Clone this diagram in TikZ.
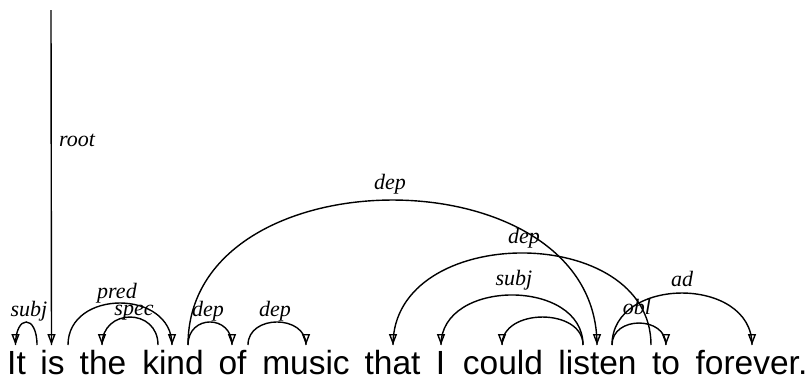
\documentclass[tikz,border=0pt]{standalone}
\usepackage{fontspec}
\setmainfont{Liberation Sans}
\newfontfamily\lblfont{Liberation Serif}
\usetikzlibrary{arrows.meta,calc}
\begin{document}
\begin{tikzpicture}[x=1pt,y=-1pt,
  word/.style={font=\fontsize{33.5}{40}\selectfont, inner sep=0pt, anchor=base},
  lbl/.style={font=\lblfont\itshape\fontsize{22}{24}\selectfont, inner sep=0pt, anchor=base},
  deparc/.style={line width=1.4pt},
  headtip/.style={line width=1.4pt, -{Triangle[open,length=11pt,width=8pt]}},
]
\useasboundingbox (0,0) rectangle (807,383);
% words
\node[word] (It) at (16.5,374) {It};
\node[word] (is) at (52.5,374) {is};
\node[word] (the) at (103,374) {the};
\node[word] (kind) at (173,374) {kind};
\node[word] (of) at (232.5,374) {of};
\node[word] (music) at (306,374) {music};
\node[word] (that) at (392.5,374) {that};
\node[word] (I) at (440.5,374) {I};
\node[word] (could) at (503,374) {could};
\node[word] (listen) at (597.5,374) {listen};
\node[word] (to) at (666,374) {to};
\node[word] (forever) at (751.5,374) {forever.};
% anchor points
\coordinate (It-h) at ($(It.base)+(-1,-29)$);
\coordinate (is-h) at ($(is.base)+(-1,-29)$);
\coordinate (is-l) at ($(is.base)+(-15.5,-29)$);
\coordinate (is-r) at ($(is.base)+(15.5,-29)$);
\coordinate (the-h) at ($(the.base)+(-1,-29)$);
\coordinate (kind-h) at ($(kind.base)+(-1,-29)$);
\coordinate (kind-l) at ($(kind.base)+(-15,-29)$);
\coordinate (kind-r) at ($(kind.base)+(15,-29)$);
\coordinate (of-h) at ($(of.base)+(-0.5,-29)$);
\coordinate (of-r) at ($(of.base)+(15.5,-29)$);
\coordinate (music-h) at ($(music.base)+(0,-29)$);
\coordinate (that-h) at ($(that.base)+(0.5,-29)$);
\coordinate (I-h) at ($(I.base)+(0.5,-29)$);
\coordinate (could-h) at ($(could.base)+(-1,-29)$);
\coordinate (listen-h) at ($(listen.base)+(-0.5,-29)$);
\coordinate (listen-l) at ($(listen.base)+(-14.5,-29)$);
\coordinate (listen-r) at ($(listen.base)+(14.5,-29)$);
\coordinate (to-h) at ($(to.base)+(0,-29)$);
\coordinate (to-l) at ($(to.base)+(-15,-29)$);
\coordinate (forever-h) at ($(forever.base)+(0.5,-29)$);
\coordinate (root-top) at (51,10);
% root
\draw[deparc] (root-top) -- (is-h);
\node[lbl, anchor=base west] (l-root) at (59,146) {root};
% arcs
\draw[deparc] (is-l) .. controls +(0,-30.7) and +(0,-30.7) .. (It-h);
\node[lbl] (l-subj1) at (29,316) {subj};
\draw[deparc] (is-r) .. controls +(0,-56) and +(0,-56) .. (kind-h);
\node[lbl] (l-pred) at (117,298) {pred};
\draw[deparc] (kind-l) .. controls +(0,-37.3) and +(0,-37.3) .. (the-h);
\node[lbl] (l-spec) at (134,315) {spec};
\draw[deparc] (kind-r) .. controls +(0,-30.7) and +(0,-30.7) .. (of-h);
\node[lbl] (l-dep1) at (208,316) {dep};
\draw[deparc] (of-r) .. controls +(0,-30.7) and +(0,-30.7) .. (music-h);
\node[lbl] (l-dep2) at (275,316) {dep};
\draw[deparc] (kind-r) .. controls +(0,-193.3) and +(0,-193.3) .. (listen-h);
\node[lbl] (l-dep3) at (390,189) {dep};
\draw[deparc] (to-l) .. controls +(0,-122.7) and +(0,-122.7) .. (that-h);
\node[lbl] (l-dep4) at (524,243) {dep};
\draw[deparc] (listen-l) .. controls +(0,-66.7) and +(0,-66.7) .. (I-h);
\node[lbl] (l-subj2) at (514,285) {subj};
\draw[deparc] (listen-l) .. controls +(0,-37.3) and +(0,-37.3) .. (could-h);
\draw[deparc] (listen-r) .. controls +(0,-29.3) and +(0,-29.3) .. (to-h);
\node[lbl] (l-obl) at (637,314) {obl};
\draw[deparc] (listen-r) .. controls +(0,-69.3) and +(0,-69.3) .. (forever-h);
\node[lbl] (l-ad) at (682,286) {ad};
% arrow heads
\foreach \h in {It-h,is-h,the-h,kind-h,of-h,music-h,that-h,I-h,could-h,listen-h,to-h,forever-h}
  \draw[headtip] ($(\h)+(0,-11.2)$) -- (\h);
\end{tikzpicture}
\end{document}
